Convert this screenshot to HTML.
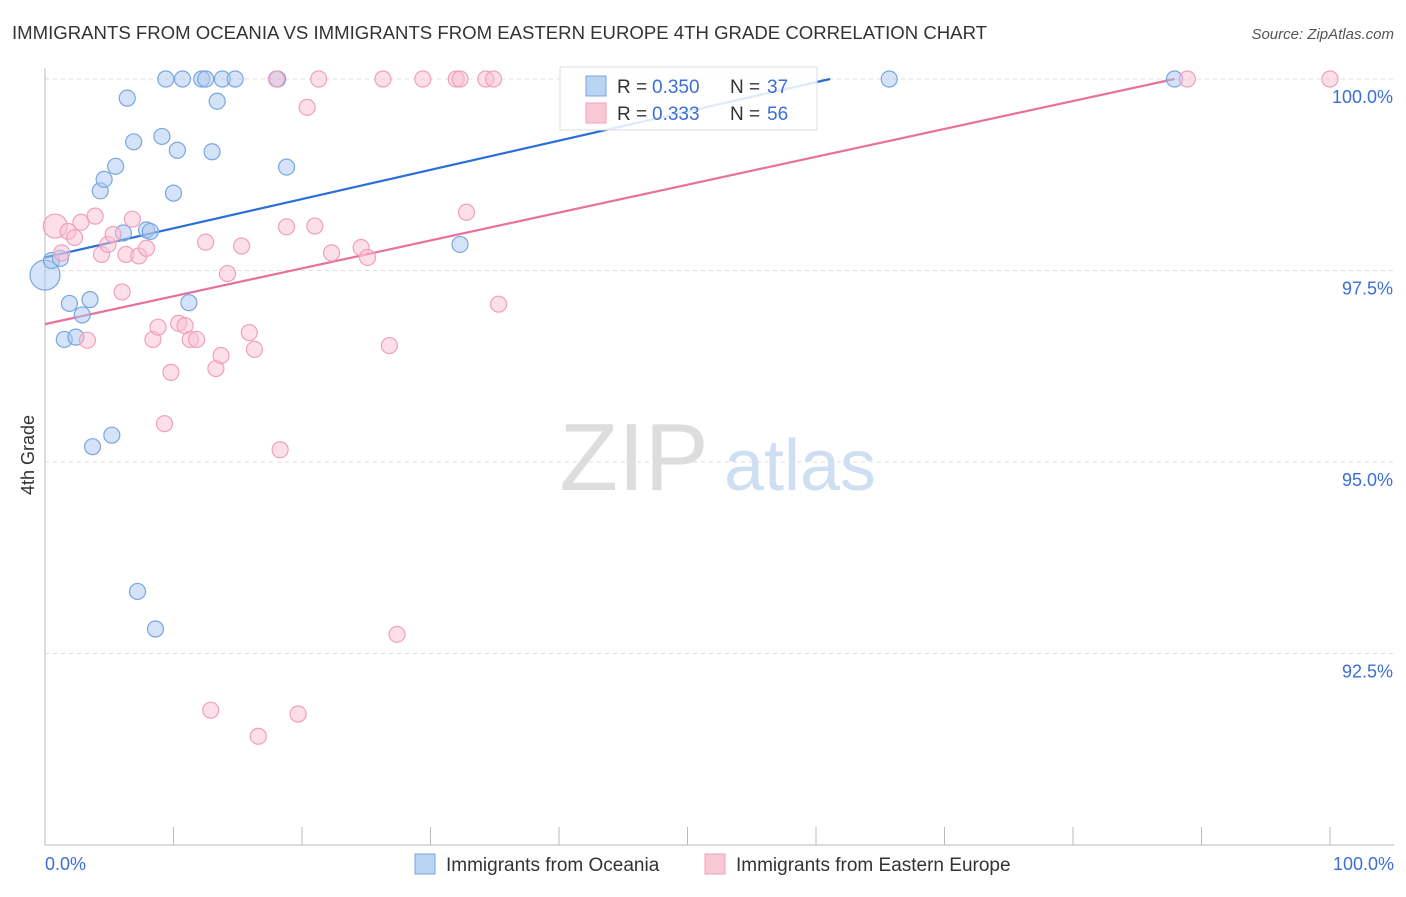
<!DOCTYPE html>
<html><head><meta charset="utf-8"><style>
body{margin:0;background:#fff;font-family:"Liberation Sans",sans-serif;}
svg text{font-family:"Liberation Sans",sans-serif;}
</style></head><body>
<svg id="c" width="1406" height="892">
<text x="12" y="39" font-size="18" fill="#333" textLength="975" lengthAdjust="spacingAndGlyphs">IMMIGRANTS FROM OCEANIA VS IMMIGRANTS FROM EASTERN EUROPE 4TH GRADE CORRELATION CHART</text>
<text x="1394" y="39" font-size="15" fill="#555" font-style="italic" text-anchor="end">Source: ZipAtlas.com</text>
<text transform="translate(34,455) rotate(-90)" font-size="18" fill="#333" text-anchor="middle">4th Grade</text>
<g><text x="634" y="490" font-size="96" fill="#ddd" font-family="Liberation Serif" text-anchor="middle">ZIP</text><text x="800" y="490" font-size="72" fill="#cfdff3" text-anchor="middle">atlas</text></g>
<g id="grid"></g><g id="axes"></g><g id="trends"></g><g id="pts"></g>
<g>
<rect x="560" y="67" width="257" height="63" fill="#fff" fill-opacity="0.85" stroke="#ddd"/>
<rect x="586" y="76" width="20" height="20" fill="#b9d3f3" stroke="#7aa6e0"/>
<text x="617" y="93" font-size="19" fill="#333">R =</text><text x="652" y="93" font-size="19" fill="#3b6fd4">0.350</text>
<text x="730" y="93" font-size="19" fill="#333">N =</text><text x="767" y="93" font-size="19" fill="#3b6fd4">37</text>
<rect x="586" y="103" width="20" height="20" fill="#f9c8d7" stroke="#f0a0bb"/>
<text x="617" y="120" font-size="19" fill="#333">R =</text><text x="652" y="120" font-size="19" fill="#3b6fd4">0.333</text>
<text x="730" y="120" font-size="19" fill="#333">N =</text><text x="767" y="120" font-size="19" fill="#3b6fd4">56</text>
</g>
<g>
<rect x="415" y="854" width="20" height="20" fill="#b9d3f3" stroke="#7aa6e0"/>
<text x="446" y="871" font-size="19" fill="#333">Immigrants from Oceania</text>
<rect x="705" y="854" width="20" height="20" fill="#f9c8d7" stroke="#f0a0bb"/>
<text x="736" y="871" font-size="19" fill="#333">Immigrants from Eastern Europe</text>
</g>
</svg>
<script>
const yTicks=[100,97.5,95,92.5];
const yTickLabels=["100.0%","97.5%","95.0%","92.5%"];
const xTickLabels=["0.0%","100.0%"];
const blueX=[0,0.5,1.2,1.9,2.9,3.5,1.5,2.4,3.7,5.2,4.3,4.6,5.5,6.4,6.9,9.1,9.4,10.3,10.7,10.0,12.2,12.5,13.0,13.4,13.8,14.8,18.1,18.8,6.1,7.9,8.2,11.2,7.2,8.6,32.3,65.7,87.9];
const blueY=[97.44,97.63,97.66,97.07,96.92,97.12,96.60,96.63,95.20,95.35,98.54,98.69,98.86,99.75,99.18,99.25,100,99.07,100,98.51,100,100,99.05,99.71,100,100,100,98.85,97.99,98.03,98.01,97.08,93.31,92.82,97.84,100,100];
const pinkX=[0.8,1.3,1.8,2.3,2.8,3.9,3.3,4.4,4.9,5.3,6.0,6.3,6.8,7.3,7.9,8.4,8.8,9.3,9.8,10.4,10.9,11.3,11.8,12.5,12.9,13.3,13.7,14.2,15.3,15.9,16.3,16.6,18.0,18.3,18.8,19.7,20.4,21.0,21.3,22.3,24.6,25.1,26.3,26.8,27.4,29.4,32.0,32.3,32.8,34.3,34.9,35.3,88.9,100];
const pinkY=[98.08,97.73,98.01,97.93,98.13,98.21,96.59,97.71,97.84,97.97,97.22,97.71,98.17,97.69,97.79,96.60,96.76,95.50,96.17,96.81,96.78,96.60,96.60,97.87,91.76,96.22,96.39,97.46,97.82,96.69,96.47,91.42,100,95.16,98.07,91.71,99.63,98.08,100,97.73,97.80,97.67,100,96.52,92.75,100,100,100,98.26,100,100,97.06,100,100];
const blueTrendX=[0,61.1], blueTrendY=[97.67,100];
const pinkTrendX=[0,87.9], pinkTrendY=[96.80,100];
const NS="http://www.w3.org/2000/svg";
const sx=v=>45+v*12.85, sy=v=>79+(100-v)*76.6;
function mk(p,t,a){const e=document.createElementNS(NS,t);for(const k in a)e.setAttribute(k,a[k]);document.getElementById(p).appendChild(e);return e;}
yTicks.forEach((t,i)=>{
 const l=mk('grid','line',{x1:45,x2:1394,y1:sy(t),y2:sy(t),stroke:'#ddd','stroke-dasharray':'4,4'});
 
 
 const tx=mk('grid','text',{x:1393,y:sy(t)+24,'font-size':18,fill:'#3b6fd4','text-anchor':'end'});tx.textContent=yTickLabels[i];
 
 
});
const ax=mk('axes','line',{x1:45,x2:45,y1:68,y2:845,stroke:'#bbb'});


const bx=mk('axes','line',{x1:45,x2:1394,y1:845,y2:845,stroke:'#bbb'});


for(let i=1;i<=10;i++){const t=mk('axes','line',{x1:sx(i*10),x2:sx(i*10),y1:827,y2:845,stroke:'#bbb'});
 
 }
[[0,'start',45],[1,'end',1394]].forEach(([i,a,x])=>{const t=mk('axes','text',{x:x,y:870,'font-size':18,fill:'#3b6fd4','text-anchor':a});t.textContent=xTickLabels[i];
 
 });
function pts(X,Y,fill,stroke,name,bigR){X.forEach((x,i)=>{const c=mk('pts','circle',{cx:sx(x),cy:sy(Y[i]),r:i===0?bigR:8,fill:fill,stroke:stroke,'stroke-width':1.2,'fill-opacity':0.5});
 
 });}
pts(blueX,blueY,'#a9c8f0','#7aa6e0','oceania-point',15);
pts(pinkX,pinkY,'#f9c0d2','#f0a0bb','eastern-europe-point',12);
const bl=mk('trends','line',{x1:sx(blueTrendX[0]),y1:sy(blueTrendY[0]),x2:sx(blueTrendX[1]),y2:sy(blueTrendY[1]),stroke:'#2a6fd6','stroke-width':2.2});


const pl=mk('trends','line',{x1:sx(pinkTrendX[0]),y1:sy(pinkTrendY[0]),x2:sx(pinkTrendX[1]),y2:sy(pinkTrendY[1]),stroke:'#e8719b','stroke-width':2.2});


</script>
</body></html>
